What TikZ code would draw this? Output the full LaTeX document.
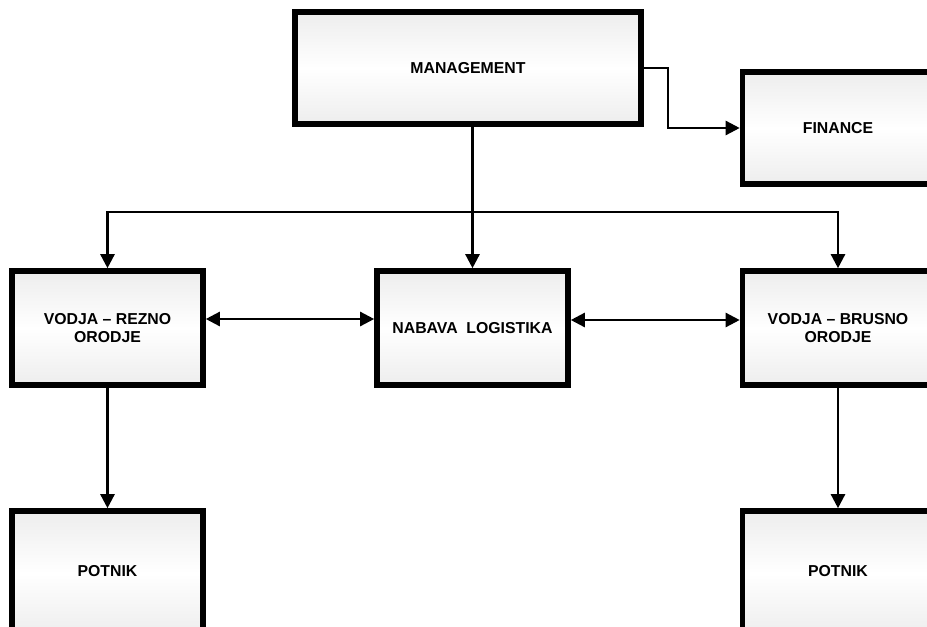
\documentclass[tikz,border=0pt]{standalone}
\usepackage{fontspec}
\setmainfont{Liberation Sans}
\usetikzlibrary{arrows.meta}
\begin{document}
\begin{tikzpicture}[x=0.02cm, y=-0.02cm,
  box/.style={draw, line width=3.2pt, top color=black!7, bottom color=black!7, middle color=white,
    minimum width=3.82cm, minimum height=2.28cm, align=center, inner sep=0pt,
    font=\bfseries\fontsize{9}{10.2}\selectfont},
  link/.style={line width=1.4pt, -{Triangle[length=0.28cm, width=0.28cm]}},
  both/.style={line width=1.4pt, {Triangle[length=0.28cm, width=0.28cm]}-{Triangle[length=0.28cm, width=0.28cm]}}]
\useasboundingbox (0,0) rectangle (927,626);
\clip (0,0) rectangle (927,626);
% boxes
\node[box, minimum width=6.92cm, minimum height=2.24cm] (mgmt) at (468, 68) {MANAGEMENT};
\node[box, minimum height=2.24cm] (fin) at (838, 128) {FINANCE};
\node[box] (rez) at (107.5, 328) {VODJA -- REZNO\\ORODJE};
\node[box] (nab) at (472.5, 328) {NABAVA\ \ LOGISTIKA};
\node[box] (bru) at (838, 328) {VODJA -- BRUSNO\\ORODJE};
\node[box, minimum height=2.5cm] (pot1) at (107.5, 573.5) {\raisebox{0.1cm}{POTNIK}};
\node[box, minimum height=2.5cm] (pot2) at (838, 573.5) {\raisebox{0.1cm}{POTNIK}};
% connectors
\coordinate (bus) at (472.5, 212);
\draw[link] (mgmt.south -| nab.north) -- (nab.north);
\draw[link] (bus) -| (rez.north);
\draw[link] (bus) -| (bru.north);
\draw[link] (mgmt.east) -- ++(24, 0) |- (fin.west);
\draw[both] ([yshift=0.18cm]rez.east) -- ([yshift=0.18cm]nab.west);
\draw[both] ([yshift=0.16cm]nab.east) -- ([yshift=0.16cm]bru.west);
\draw[link] (rez.south) -- (pot1.north);
\draw[link] (bru.south) -- (pot2.north);
\end{tikzpicture}
\end{document}
